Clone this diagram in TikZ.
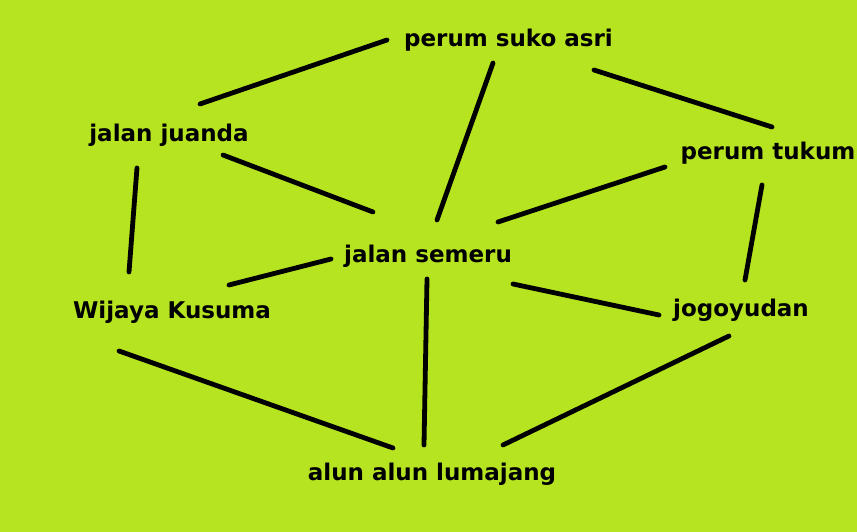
\documentclass[tikz,border=0pt]{standalone}
\usepackage{fontspec}
\setmainfont{DejaVu Sans}
\definecolor{limebg}{RGB}{182,228,32}

\begin{document}
\begin{tikzpicture}[x=1pt,y=1pt,
  place/.style={anchor=base,inner sep=0pt,font=\bfseries\fontsize{23}{27}\selectfont},
  road/.style={line width=4.8pt,line cap=round}]

\fill[limebg] (0,0) rectangle (857,532);
\useasboundingbox (0,0) rectangle (857,532);

% places
\node[place] (suko) at (508.5,485) {perum suko asri};
\node[place] (juanda) at (169,390) {jalan juanda};
\node[place] (tukum) at (768,372) {perum tukum};
\node[place] (semeru) at (428,269) {jalan semeru};
\node[place] (wijaya) at (172,213) {Wijaya Kusuma};
\node[place] (jogo) at (741,215) {jogoyudan};
\node[place] (alun) at (432,51) {alun alun lumajang};

% roads
\draw[road] ([shift={(31,38)}]juanda.base) -- ([shift={(-121.5,7)}]suko.base);
\draw[road] ([shift={(9,43)}]semeru.base) -- ([shift={(-15.5,-16)}]suko.base);
\draw[road] ([shift={(85.5,-23)}]suko.base) -- ([shift={(4,33)}]tukum.base);
\draw[road] ([shift={(54,-13)}]juanda.base) -- ([shift={(-55,51)}]semeru.base);
\draw[road] ([shift={(70,41)}]semeru.base) -- ([shift={(-103,-7)}]tukum.base);
\draw[road] ([shift={(-32,-26)}]juanda.base) -- ([shift={(-43,47)}]wijaya.base);
\draw[road] ([shift={(-6,-25)}]tukum.base) -- ([shift={(4,37)}]jogo.base);
\draw[road] ([shift={(-97,4)}]semeru.base) -- ([shift={(57,34)}]wijaya.base);
\draw[road] ([shift={(85,-21)}]semeru.base) -- ([shift={(-82,2)}]jogo.base);
\draw[road] ([shift={(-1,-16)}]semeru.base) -- ([shift={(-8,36)}]alun.base);
\draw[road] ([shift={(-53,-32)}]wijaya.base) -- ([shift={(-39,33)}]alun.base);
\draw[road] ([shift={(-12,-19)}]jogo.base) -- ([shift={(71,36)}]alun.base);
\end{tikzpicture}
\end{document}
